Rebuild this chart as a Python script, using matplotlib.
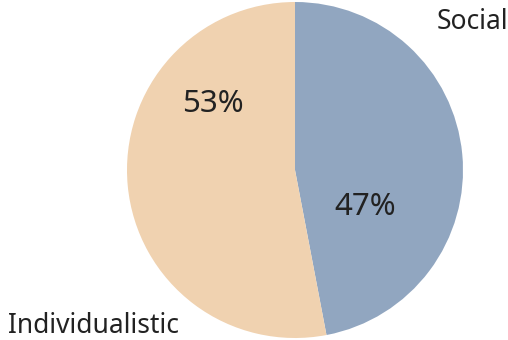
import matplotlib.pyplot as plt

labels = ['Social', 'Individualistic']
shares = [47, 53]
colors = ['#91a6c0', '#f0d2b0']

plt.rcParams['font.family'] = ['Noto Sans', 'Open Sans', 'DejaVu Sans']

fig = plt.figure(figsize=(5.08, 3.40), dpi=100)
ax = fig.add_axes([127 / 508, 2 / 340, 336 / 508, 336 / 340])
wedges, _ = ax.pie(shares, colors=colors, startangle=90, counterclock=False,
                   radius=1, wedgeprops=dict(linewidth=0))
ax.set_xlim(-1, 1)
ax.set_ylim(-1, 1)
ax.set_aspect('equal')
ax.axis('off')

# percent labels inside slices
ax.text(0.42, -0.22, '{}%'.format(shares[0]), fontsize=22.5, color='#222222',
        ha='center', va='center')
ax.text(-0.49, 0.39, '{}%'.format(shares[1]), fontsize=22.5, color='#222222',
        ha='center', va='center')

# slice names outside the pie
fig.text(508 / 508, 1 - 22 / 340, labels[0], fontsize=19, color='#222222',
         ha='right', va='center')
fig.text(8 / 508, 1 - 326 / 340, labels[1], fontsize=19, color='#222222',
         ha='left', va='center')

fig.savefig('out.png', dpi=100)
